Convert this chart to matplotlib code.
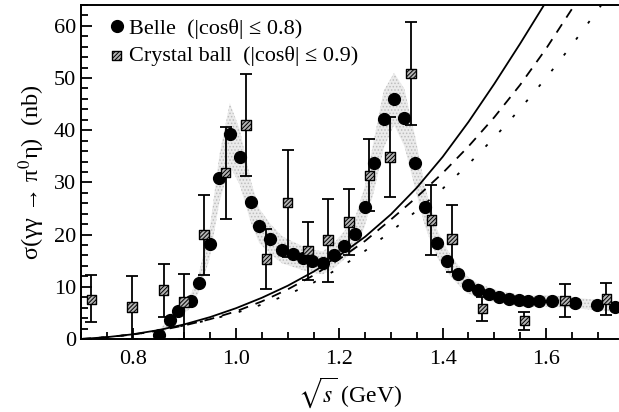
import matplotlib
matplotlib.use('Agg')
import matplotlib.pyplot as plt
from matplotlib.lines import Line2D
from matplotlib.ticker import MultipleLocator

plt.rcParams['font.family'] = ['Liberation Serif', 'DejaVu Serif']
plt.rcParams['mathtext.fontset'] = 'stix'
plt.rcParams['hatch.linewidth'] = 0.7

# Belle data (|cos theta| <= 0.8)
belle_x = [0.851, 0.872, 0.888, 0.913, 0.928, 0.949, 0.968, 0.988, 1.007, 1.029,
           1.045, 1.066, 1.089, 1.111, 1.129, 1.147, 1.168, 1.190, 1.209, 1.230,
           1.249, 1.268, 1.286, 1.306, 1.326, 1.347, 1.366, 1.389, 1.409, 1.429,
           1.449, 1.468, 1.489, 1.509, 1.529, 1.547, 1.566, 1.587, 1.612, 1.657,
           1.699, 1.734]
belle_y = [0.8, 3.6, 5.4, 7.3, 10.8, 18.2, 30.8, 39.2, 34.9, 26.2,
           21.7, 19.2, 17.1, 16.2, 15.5, 14.9, 14.6, 16.0, 17.9, 20.1,
           25.3, 33.7, 42.1, 46.0, 42.4, 33.7, 25.3, 18.3, 14.9, 12.4,
           10.3, 9.3, 8.6, 8.0, 7.7, 7.4, 7.2, 7.3, 7.3, 6.9,
           6.5, 6.1]
# systematic band half-width
belle_sys = [0.6, 1.0, 1.2, 1.4, 1.8, 2.8, 4.5, 6.0, 5.3, 4.0,
             3.3, 2.9, 2.6, 2.4, 2.3, 2.2, 2.2, 2.4, 2.7, 3.0,
             3.8, 5.0, 5.5, 5.0, 5.5, 5.0, 3.8, 2.7, 2.2, 1.9,
             1.6, 1.4, 1.3, 1.2, 1.2, 1.1, 1.1, 1.1, 1.1, 1.0,
             1.0, 0.9]

# Crystal Ball data (|cos theta| <= 0.9)
cb_x = [0.720, 0.799, 0.860, 0.899, 0.938, 0.980, 1.019, 1.059, 1.100, 1.139,
        1.178, 1.219, 1.258, 1.298, 1.339, 1.378, 1.418, 1.477, 1.558, 1.637, 1.717]
cb_y = [7.6, 6.1, 9.4, 7.1, 20.0, 31.9, 41.0, 15.3, 26.1, 17.0,
        19.0, 22.4, 31.3, 34.9, 50.9, 22.8, 19.2, 5.8, 3.5, 7.4, 7.7]
cb_hi = [12.2, 12.0, 14.4, 12.4, 27.6, 40.6, 50.8, 21.0, 36.3, 22.4,
         26.9, 28.8, 38.3, 42.6, 60.8, 29.5, 25.6, 8.1, 5.1, 10.6, 10.8]
cb_lo = [3.3, 0.0, 4.2, 0.0, 12.2, 22.9, 31.2, 9.6, 15.8, 11.3,
         11.0, 16.0, 24.5, 27.3, 41.0, 16.0, 12.9, 3.5, 1.7, 4.3, 4.6]

# model curves
curve_x = [0.70, 0.75, 0.80, 0.85, 0.90, 0.95, 1.00, 1.05, 1.10, 1.15,
           1.20, 1.25, 1.30, 1.35, 1.40, 1.45, 1.50, 1.55, 1.60, 1.65,
           1.70, 1.75]
solid_y = [0.0, 0.35, 0.9, 1.7, 2.8, 4.2, 5.9, 7.9, 10.2, 12.9,
           16.0, 19.6, 23.9, 29.0, 34.9, 41.6, 48.9, 56.6, 64.6, 73.0,
           82.0, 91.0]
dash_y = [0.0, 0.35, 0.85, 1.6, 2.6, 3.8, 5.3, 7.2, 9.5, 12.2,
          15.3, 18.8, 22.9, 27.2, 31.8, 36.9, 42.5, 48.7, 55.6, 63.2,
          71.5, 80.3]
dot_y = [0.0, 0.35, 0.85, 1.6, 2.6, 3.7, 5.0, 6.6, 8.5, 10.8,
         13.6, 16.9, 20.6, 24.6, 28.8, 33.5, 38.6, 44.1, 50.0, 56.3,
         63.0, 70.0]

fig = plt.figure(figsize=(6.19, 4.12), dpi=100)
ax = fig.add_axes([0.1309, 0.1772, 0.868, 0.8107])

band_lo = [y - s for y, s in zip(belle_y, belle_sys)]
band_hi = [y + s for y, s in zip(belle_y, belle_sys)]
ax.fill_between(belle_x, band_lo, band_hi, facecolor='#ebebeb', edgecolor='#bdbdbd',
                hatch='.....', lw=0, zorder=1)

ax.plot(curve_x, solid_y, color='black', lw=1.3, zorder=2)
ax.plot(curve_x, dash_y, color='black', lw=1.3, dashes=(5.5, 4.4), zorder=2)
ax.plot(curve_x, dot_y, color='black', lw=1.3, dashes=(1.6, 9.5), zorder=2)

ax.plot(belle_x, belle_y, 'o', color='black', ms=8.5, zorder=4)

yerr = [[y - l for y, l in zip(cb_y, cb_lo)], [h - y for y, h in zip(cb_y, cb_hi)]]
ax.errorbar(cb_x, cb_y, yerr=yerr, fmt='none', ecolor='black', elinewidth=1.3,
            capsize=4.5, capthick=1.3, zorder=3)
cb = ax.scatter(cb_x, cb_y, marker='s', s=46, facecolor='#b4b4b4', edgecolor='black',
                linewidths=1.0, hatch='////////', zorder=5)

ax.set_xlim(0.70, 1.74)
ax.set_ylim(0, 64)
ax.xaxis.set_major_locator(MultipleLocator(0.2))
ax.xaxis.set_minor_locator(MultipleLocator(0.05))
ax.yaxis.set_major_locator(MultipleLocator(10))
ax.yaxis.set_minor_locator(MultipleLocator(2))
ax.set_xticks([0.8, 1.0, 1.2, 1.4, 1.6])
ax.set_xticklabels(['0.8', '1.0', '1.2', '1.4', '1.6'])
ax.tick_params(which='both', direction='in', top=False, right=False, width=1.3,
               labelsize=16)
ax.tick_params(which='major', length=8)
ax.tick_params(which='minor', length=5)
ax.tick_params(axis='x', pad=8)
ax.spines['right'].set_visible(False)
for s in ['left', 'bottom', 'top']:
    ax.spines[s].set_linewidth(1.4)

ax.set_xlabel(r'$\sqrt{s}$ (GeV)', fontsize=17, labelpad=4)
ax.set_ylabel(r'σ(γγ → π$^0$η)  (nb)', fontsize=17.5, labelpad=5)

belle_h = Line2D([], [], ls='none', marker='o', color='black', ms=8.5)
labels = ['Belle  (|cosθ| ≤ 0.8)', 'Crystal ball  (|cosθ| ≤ 0.9)']
ax.legend([belle_h, cb], labels, loc='upper left', frameon=False, fontsize=16,
          handlelength=0.6, handletextpad=0.25, labelspacing=0.3,
          borderpad=0, borderaxespad=0, bbox_to_anchor=(0.054, 0.96))

fig.savefig('out.png', dpi=100)
